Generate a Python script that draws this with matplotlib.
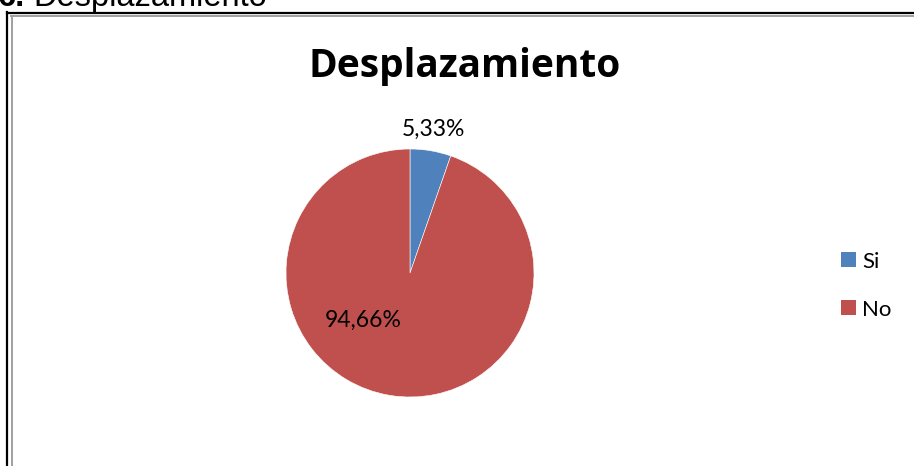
import matplotlib.pyplot as plt
from matplotlib.lines import Line2D
from matplotlib.patches import Rectangle

# data
categories = ["Si", "No"]
values = [5.33, 94.66]
value_labels = ["5,33%", "94,66%"]
colors = ["#4F81BD", "#C0504D"]

W, H = 914, 466
fig = plt.figure(figsize=(W / 100, H / 100), dpi=100)
fig.patch.set_facecolor("white")


def fx(px):
    return px / W


def fy(py):
    return 1 - py / H


# page heading, cut off at the top of the crop
fig.text(fx(-2), fy(6), "6.", fontsize=23.5, fontweight="bold",
         family="Liberation Sans", va="baseline", ha="left")
fig.text(fx(33), fy(6), "Desplazamiento", fontsize=23.5,
         family="Liberation Sans", va="baseline", ha="left")

# chart frame (double line, black outside, grey inside)
fig.add_artist(Line2D([fx(7.5), fx(7.5)], [fy(12), fy(470)], color="black", lw=1.6))
fig.add_artist(Line2D([fx(7), fx(920)], [fy(12.5), fy(12.5)], color="black", lw=1.6))
fig.add_artist(Line2D([fx(11.5), fx(11.5)], [fy(15.5), fy(470)], color="#A0A0A0", lw=1.4))
fig.add_artist(Line2D([fx(11), fx(920)], [fy(15.5), fy(15.5)], color="#A0A0A0", lw=1.4))

# title
fig.text(fx(465), fy(77), "Desplazamiento", fontsize=28, fontweight="bold",
         family="Open Sans", ha="center", va="baseline")

# pie
cx, cy, r = 410, 273, 124
ax = fig.add_axes([fx(cx - r), fy(cy + r), (2 * r) / W, (2 * r) / H])
wedges, _ = ax.pie(values, colors=colors, startangle=90, counterclock=False,
                   radius=1, wedgeprops=dict(edgecolor="white", linewidth=0.4))
ax.set_xlim(-1, 1)
ax.set_ylim(-1, 1)
ax.set_aspect("auto")
ax.axis("off")

# data labels
fig.text(fx(433), fy(136), value_labels[0], fontsize=16.5, family="Lato",
         ha="center", va="baseline")
fig.text(fx(363), fy(327), value_labels[1], fontsize=16.5, family="Lato",
         ha="center", va="baseline")

# legend
for i, name in enumerate(categories):
    ycen = 259.5 + i * 48
    fig.add_artist(Rectangle((fx(841), fy(ycen + 7.5)), 15 / W, 15 / H,
                             facecolor=colors[i], edgecolor="none",
                             transform=fig.transFigure))
    fig.text(fx(862), fy(ycen + 8), name, fontsize=16, family="Lato",
             ha="left", va="baseline")

fig.savefig("out.png", dpi=100)
